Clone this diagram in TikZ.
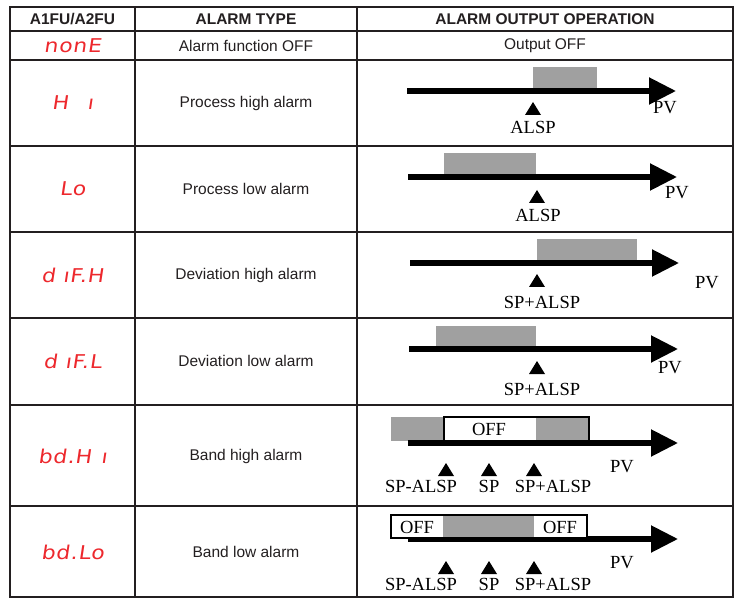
\documentclass[tikz,border=0pt]{standalone}
\usepackage{fontspec}
\setmainfont{Liberation Sans}
\newfontfamily\serifA{Liberation Serif}
\newfontfamily\segfont[FakeSlant=0.15,FakeStretch=1.15,LetterSpace=4]{DejaVu Sans}
\usetikzlibrary{arrows.meta}
\definecolor{tblline}{RGB}{35,31,32}
\definecolor{algray}{RGB}{160,160,160}
\definecolor{segred}{RGB}{237,40,45}
\tikzset{
  grid/.style={draw=tblline,line width=1.7pt},
  hd/.style={font=\fontsize{15.5}{17}\selectfont\bfseries,text=tblline},
  bd/.style={font=\fontsize{15.5}{17}\selectfont,text=tblline},
  seg/.style={font=\fontsize{19}{21}\selectfont\segfont,text=segred},
  lbl/.style={font=\fontsize{18.5}{20}\selectfont\serifA,inner sep=0pt},
  pvarrow/.style={line width=5.2pt,-{Triangle[length=27pt,width=26pt]}},
  onbox/.style={fill=algray,draw=none},
  offbox/.style={draw=black,line width=1.2pt,fill=white},
}
\newcommand\mk[2]{\fill (#1-8,#2+13) -- (#1+8,#2+13) -- (#1,#2) -- cycle;}
\begin{document}
\begin{tikzpicture}[x=1pt,y=-1pt]
\useasboundingbox (0,0) rectangle (740,599);
% ---------- table grid
\draw[grid] (10,7) rectangle (733,597);
\foreach \yy in {31,60,146,232,318,405,506} \draw[grid] (10,\yy) -- (733,\yy);
\draw[grid] (135,7) -- (135,597);
\draw[grid] (357,7) -- (357,597);
% ---------- header
\node[hd] (h1) at (72.5,19) {A1FU/A2FU};
\node[hd] (h2) at (246,19) {ALARM TYPE};
\node[hd] (h3) at (545,19) {ALARM OUTPUT OPERATION};
% ---------- codes
\node[seg] (c1) at (72.5,46) {nonE};
\node[seg] (c2) at (72.5,103) {H\quad ı};
\node[seg] (c3) at (72.5,189) {Lo};
\node[seg] (c4) at (72.5,275) {d ıF.H};
\node[seg] (c5) at (72.5,361) {d ıF.L};
\node[seg] (c6) at (72.5,456) {bd.H\enspace ı};
\node[seg] (c7) at (72.5,552) {bd.Lo};
% ---------- types
\node[bd] (t1) at (246,46) {Alarm function OFF};
\node[bd] (t2) at (246,103) {Process high alarm};
\node[bd] (t3) at (246,189) {Process low alarm};
\node[bd] (t4) at (246,275) {Deviation high alarm};
\node[bd] (t5) at (246,361) {Deviation low alarm};
\node[bd] (t6) at (246,456) {Band high alarm};
\node[bd] (t7) at (246,552) {Band low alarm};
\node[bd] (o1) at (545,46) {Output OFF};
% ---------- Hi
\fill[onbox] (533,67) rectangle (597,89);
\coordinate (a2s) at (407,91); \coordinate (a2e) at (676,91);
\draw[pvarrow] (a2s) -- (a2e);
\mk{533}{102}
\node[lbl] (l2a) at (533,127) {ALSP};
\node[lbl] (p2) at (665,108) {PV};
% ---------- Lo
\fill[onbox] (444,153) rectangle (536,174);
\coordinate (a3s) at (408,177); \coordinate (a3e) at (677,177);
\draw[pvarrow] (a3s) -- (a3e);
\mk{537}{190}
\node[lbl] (l3a) at (538,215) {ALSP};
\node[lbl] (p3) at (677,193) {PV};
% ---------- difH
\fill[onbox] (537,239) rectangle (637,260);
\coordinate (a4s) at (410,263); \coordinate (a4e) at (679,263);
\draw[pvarrow] (a4s) -- (a4e);
\mk{537}{274}
\node[lbl] (l4a) at (542,302) {SP+ALSP};
\node[lbl] (p4) at (707,283) {PV};
% ---------- difL
\fill[onbox] (436,326) rectangle (536,346);
\coordinate (a5s) at (409,349); \coordinate (a5e) at (678,349);
\draw[pvarrow] (a5s) -- (a5e);
\mk{537}{361}
\node[lbl] (l5a) at (542,389) {SP+ALSP};
\node[lbl] (p5) at (670,368) {PV};
% ---------- bdHi
\fill[onbox] (391,417) rectangle (444,441);
\coordinate (a6s) at (408,443); \coordinate (a6e) at (678,443);
\draw[pvarrow] (a6s) -- (a6e);
\draw[offbox] (444,417) rectangle (589,441);
\fill[onbox] (536,417.6) rectangle (588.4,440.4);
\node[lbl] (off6) at (489,429) {OFF};
\mk{446}{463}
\mk{489}{463}
\mk{534}{463}
\node[lbl] (l6a) at (421,486) {SP-ALSP};
\node[lbl] (l6b) at (489,486) {SP};
\node[lbl] (l6c) at (553,486) {SP+ALSP};
\node[lbl] (p6) at (622,467) {PV};
% ---------- bdLo
\coordinate (a7s) at (408,539); \coordinate (a7e) at (678,539);
\draw[pvarrow] (a7s) -- (a7e);
\draw[offbox] (391,515) rectangle (587,538);
\fill[onbox] (443,515.6) rectangle (534,537.4);
\node[lbl] (off7a) at (417,527) {OFF};
\node[lbl] (off7b) at (560,527) {OFF};
\mk{446}{561}
\mk{489}{561}
\mk{534}{561}
\node[lbl] (l7a) at (421,584) {SP-ALSP};
\node[lbl] (l7b) at (489,584) {SP};
\node[lbl] (l7c) at (553,584) {SP+ALSP};
\node[lbl] (p7) at (622,563) {PV};
\end{tikzpicture}
\end{document}
